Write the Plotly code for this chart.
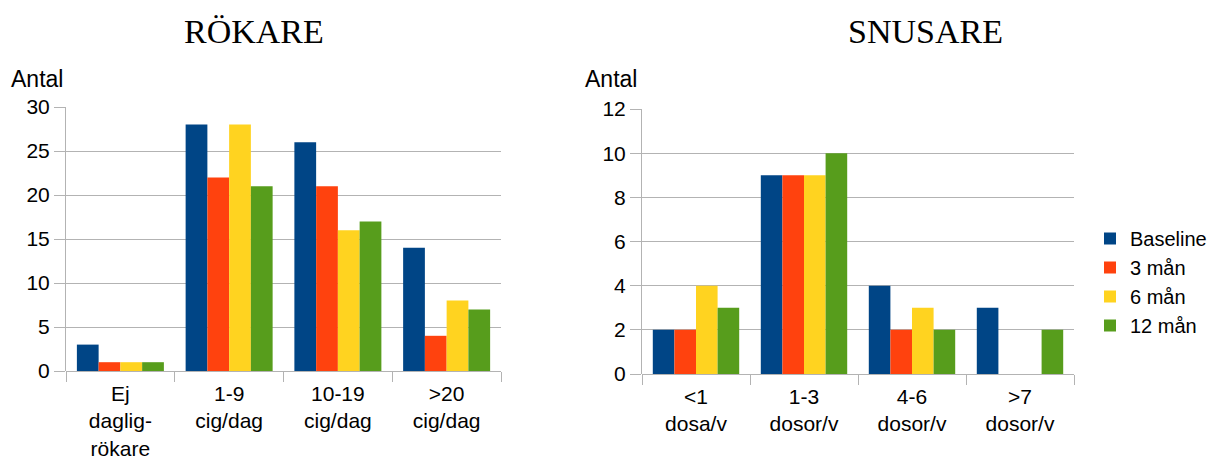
import plotly.graph_objects as go

W, H = 1217, 459

series = ["Baseline", "3 mån", "6 mån", "12 mån"]
colors = ["#004586", "#ff420e", "#ffd320", "#579d1c"]

rok_categories = ["Ej<br>daglig-<br>rökare", "1-9<br>cig/dag", "10-19<br>cig/dag", ">20<br>cig/dag"]
rok_baseline = [3, 28, 26, 14]
rok_3man = [1, 22, 21, 4]
rok_6man = [1, 28, 16, 8]
rok_12man = [1, 21, 17, 7]

snus_categories = ["<1<br>dosa/v", "1-3<br>dosor/v", "4-6<br>dosor/v", ">7<br>dosor/v"]
snus_baseline = [2, 9, 4, 3]
snus_3man = [2, 9, 2, 0]
snus_6man = [4, 9, 3, 0]
snus_12man = [3, 10, 2, 2]

rok_vals = [rok_baseline, rok_3man, rok_6man, rok_12man]
snus_vals = [snus_baseline, snus_3man, snus_6man, snus_12man]

fig = go.Figure()
for name, col, rv, sv in zip(series, colors, rok_vals, snus_vals):
    fig.add_trace(go.Bar(x=rok_categories, y=rv, name=name, marker_color=col,
                         marker_line_width=0, xaxis="x", yaxis="y", legendgroup=name))
    fig.add_trace(go.Bar(x=snus_categories, y=sv, name=name, marker_color=col,
                         marker_line_width=0, xaxis="x2", yaxis="y2", legendgroup=name,
                         showlegend=False))

def px_x(a, b):
    return [a / W, b / W]

def px_y(top, bottom):
    return [(H - bottom) / H, (H - top) / H]

grid = "#b3b3b3"
sans = "Liberation Sans, Arial, sans-serif"
font = dict(family=sans, size=21, color="#000000")

xcommon = dict(showgrid=False, showline=False, ticks="outside", tickson="boundaries",
               ticklen=10, tickcolor=grid, tickwidth=1, tickfont=font, zeroline=False,
               fixedrange=True, automargin=False, ticklabelstandoff=8)
ycommon = dict(showgrid=True, gridcolor=grid, gridwidth=1, showline=True, linecolor=grid,
               linewidth=1, ticks="outside", ticklen=11, tickcolor=grid, tickfont=font,
               zeroline=True, zerolinecolor=grid, zerolinewidth=1, fixedrange=True,
               automargin=False)

fig.update_layout(
    width=W, height=H,
    margin=dict(l=0, r=0, t=0, b=0, autoexpand=False),
    paper_bgcolor="white", plot_bgcolor="white",
    barmode="group", bargap=0.2, bargroupgap=0,
    font=font,
    xaxis=dict(domain=px_x(66, 501), anchor="y", **xcommon),
    yaxis=dict(domain=px_y(107, 371), anchor="x", range=[0, 30], dtick=5, **ycommon),
    xaxis2=dict(domain=px_x(642, 1074), anchor="y2", **xcommon),
    yaxis2=dict(domain=px_y(109, 374), anchor="x2", range=[0, 12], dtick=2, **ycommon),
    legend=dict(x=1090 / W, y=(H - 219) / H, xanchor="left", yanchor="top",
                font=dict(family=sans, size=20),
                bgcolor="rgba(0,0,0,0)", itemwidth=30, tracegroupgap=0),
    showlegend=True,
)

ann_font_title = dict(family="Liberation Serif, Times New Roman, serif", size=34, color="#000")
fig.add_annotation(text="RÖKARE", x=254 / W, y=(H - 31) / H, xref="paper", yref="paper",
                   showarrow=False, font=ann_font_title, xanchor="center", yanchor="middle")
fig.add_annotation(text="SNUSARE", x=925 / W, y=(H - 31) / H, xref="paper", yref="paper",
                   showarrow=False, font=ann_font_title, xanchor="center", yanchor="middle")
fig.add_annotation(text="Antal", x=9 / W, y=(H - 79) / H, xref="paper", yref="paper",
                   showarrow=False, font=dict(family=sans, size=23, color="#000"),
                   xanchor="left", yanchor="middle")
fig.add_annotation(text="Antal", x=583 / W, y=(H - 79) / H, xref="paper", yref="paper",
                   showarrow=False, font=dict(family=sans, size=23, color="#000"),
                   xanchor="left", yanchor="middle")

fig.write_html(
    "out.html",
    config={"displayModeBar": False},
    post_script="document.body.style.margin='0';document.body.style.overflow='hidden';",
)
